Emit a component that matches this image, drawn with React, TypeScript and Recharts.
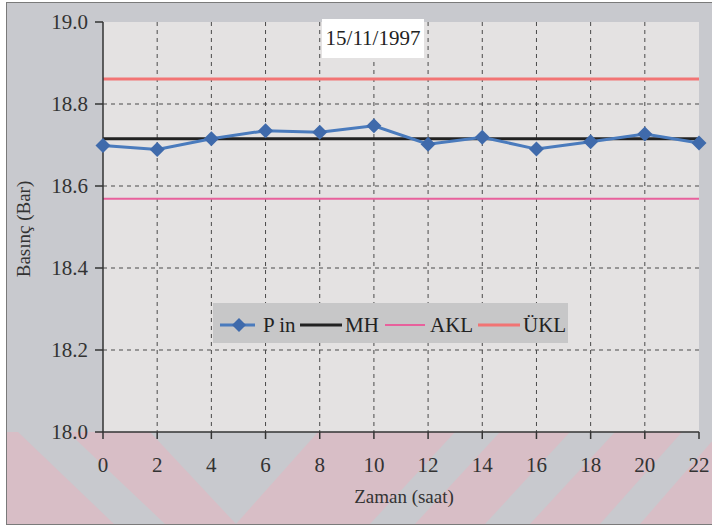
import { LineChart, Line, XAxis, YAxis, CartesianGrid } from "recharts";

// saat (x ekseni)
const hours = [0, 2, 4, 6, 8, 10, 12, 14, 16, 18, 20, 22];
// ölçülen giriş basıncı
const pIn = [18.699, 18.689, 18.715, 18.735, 18.731, 18.747, 18.702, 18.719, 18.69, 18.708, 18.727, 18.705];
// merkez hattı ve kontrol limitleri
const mh = [18.715, 18.715, 18.715, 18.715, 18.715, 18.715, 18.715, 18.715, 18.715, 18.715, 18.715, 18.715];
const akl = [18.569, 18.569, 18.569, 18.569, 18.569, 18.569, 18.569, 18.569, 18.569, 18.569, 18.569, 18.569];
const ukl = [18.861, 18.861, 18.861, 18.861, 18.861, 18.861, 18.861, 18.861, 18.861, 18.861, 18.861, 18.861];
const yTicks = [18.0, 18.2, 18.4, 18.6, 18.8, 19.0];

const FONT = "'Liberation Serif', 'Times New Roman', serif";
const BLUE = "#4a7bbd";
const BLUE_DOT = "#3f6aab";
const PINK = "#e8619c";
const SALMON = "#f27474";

const data = hours.map((h, i) => ({ hour: h, pIn: pIn[i], mh: mh[i], akl: akl[i], ukl: ukl[i] }));

const Diamond = (props: any) => {
  const { cx, cy } = props;
  if (cx == null || cy == null) return null;
  const r = 7.5;
  return <polygon points={`${cx},${cy - r} ${cx + r},${cy} ${cx},${cy + r} ${cx - r},${cy}`} fill={BLUE_DOT} />;
};

const txt = { fontSize: 21, fontFamily: FONT, fill: "#222" };

// legend drawn by hand, the box sits inside the plot
const LegendBox = () => (
  <svg width={355} height={40} style={{ display: "block" }}>
    <rect x={0} y={0} width={355} height={40} fill="#c7c7c8" />
    <line x1={7} x2={42} y1={22} y2={22} stroke={BLUE} strokeWidth={3} />
    <polygon points="26,15 33,22 26,29 19,22" fill={BLUE_DOT} />
    <text x={50} y={29} style={txt}>P in</text>
    <line x1={87} x2={129} y1={22} y2={22} stroke="#222" strokeWidth={3} />
    <text x={132} y={29} style={txt}>MH</text>
    <line x1={172} x2={212} y1={22} y2={22} stroke={PINK} strokeWidth={2} />
    <text x={217} y={29} style={txt}>AKL</text>
    <line x1={265} x2={307} y1={22} y2={22} stroke={SALMON} strokeWidth={3} />
    <text x={310} y={29} style={txt}>ÜKL</text>
  </svg>
);

export default function App() {
  return (
    <div style={{ position: "absolute", left: 0, top: 0, width: 712, height: 527, background: "#fff", overflow: "hidden" }}>
      {/* frame + watermark stripes */}
      <svg width={712} height={527} style={{ position: "absolute", left: 0, top: 0 }}>
        <rect x={6.5} y={2.5} width={720} height={522} fill="#c8c9ce" stroke="#7a7a7a" />
        <g fill="#d8bec6">
          <polygon points="7,432 18,432 114,524 7,524" />
          <polygon points="68,432 150,432 236,524 318,432 455,432 370,524 165,524" />
          <polygon points="500,432 570,432 485,524 415,524" />
          <polygon points="615,432 682,432 600,524 530,524" />
          <polygon points="720,432 800,432 720,524 640,524" />
        </g>
      </svg>
      <div style={{ position: "absolute", left: 0, top: 0 }}>
        <LineChart width={712} height={527} data={data} margin={{ top: 22, right: 13, left: 8, bottom: 0 }}>
          <CartesianGrid
            fill="#e4e2e2"
            stroke="#4a4a4a"
            strokeDasharray="4 4"
            horizontalValues={[18.2, 18.4, 18.6, 18.8]}
            verticalValues={[2, 4, 6, 8, 10, 12, 14, 16, 18, 20]}
          />
          <XAxis
            dataKey="hour"
            type="number"
            domain={[0, 22]}
            ticks={hours}
            height={95}
            tickSize={7}
            tickMargin={18}
            stroke="#333"
            strokeWidth={1.5}
            tick={{ fontSize: 21, fill: "#333", fontFamily: FONT }}
          />
          <YAxis
            domain={[18, 19]}
            ticks={yTicks}
            width={95}
            tickSize={8}
            tickMargin={7}
            stroke="#333"
            strokeWidth={1.5}
            allowDataOverflow
            tickFormatter={(v: number) => v.toFixed(1)}
            tick={{ fontSize: 21, fill: "#333", fontFamily: FONT }}
          />
          <Line dataKey="ukl" stroke={SALMON} strokeWidth={3} dot={false} isAnimationActive={false} />
          <Line dataKey="akl" stroke={PINK} strokeWidth={2} dot={false} isAnimationActive={false} />
          <Line dataKey="mh" stroke="#222" strokeWidth={3} dot={false} isAnimationActive={false} />
          <Line dataKey="pIn" stroke={BLUE} strokeWidth={3} dot={<Diamond />} activeDot={false} isAnimationActive={false} />
        </LineChart>
      </div>
      <div style={{ position: "absolute", left: 213, top: 303 }}>
        <LegendBox />
      </div>
      {/* title box */}
      <div
        style={{
          position: "absolute", left: 322, top: 19, width: 102, height: 39, background: "#fff",
          fontFamily: FONT, fontSize: 21, color: "#222", textAlign: "center", lineHeight: "39px",
        }}
      >
        15/11/1997
      </div>
      {/* axis titles */}
      <div
        style={{
          position: "absolute", left: 24, top: 229, transform: "translate(-50%, -50%) rotate(-90deg)",
          fontFamily: FONT, fontSize: 19, color: "#333", whiteSpace: "nowrap",
        }}
      >
        Basınç (Bar)
      </div>
      <div
        style={{
          position: "absolute", left: 404, top: 497, transform: "translate(-50%, -50%)",
          fontFamily: FONT, fontSize: 19, color: "#333", whiteSpace: "nowrap",
        }}
      >
        Zaman (saat)
      </div>
    </div>
  );
}
